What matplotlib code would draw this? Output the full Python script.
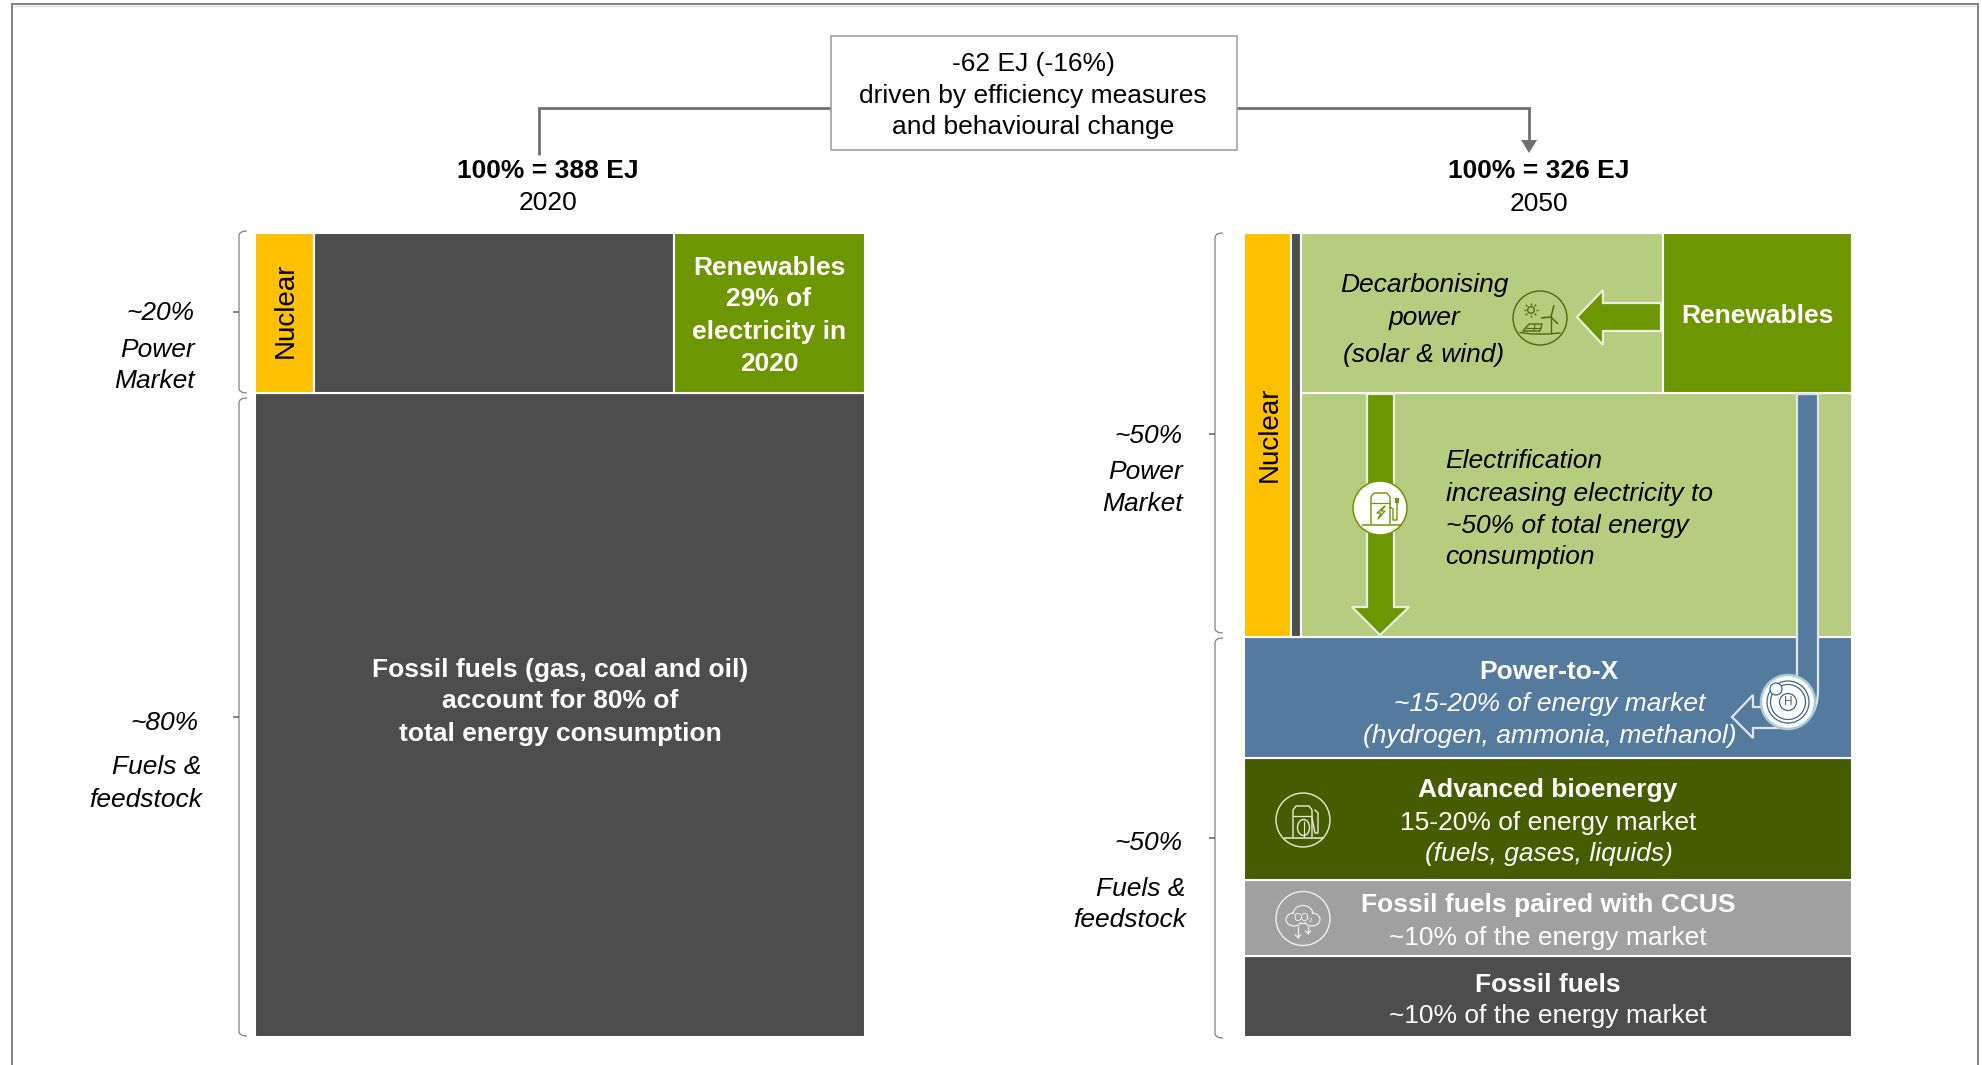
import matplotlib
matplotlib.use("Agg")
import matplotlib.pyplot as plt
from matplotlib.patches import Polygon, Circle, PathPatch, Rectangle, Ellipse
from matplotlib.path import Path

plt.rcParams['font.family'] = ['Liberation Sans', 'DejaVu Sans']

# ---- data (percent of total energy) ----
power_2020 = 19.9
fuels_2020 = 80.1
power_2020_names = ["Nuclear", "Fossil", "Renewables"]
power_2020_widths = [9.7, 59.0, 31.3]

rows_2050_names = ["Fossil fuels", "Fossil fuels paired with CCUS", "Advanced bioenergy", "Power-to-X"]
rows_2050_heights = [10.0, 9.5, 15.1, 15.1]
electrification_2050 = 30.4
decarbonising_2050 = 19.9
left_cols_2050_names = ["Nuclear", "Fossil"]
left_cols_2050_widths = [7.75, 1.7]
decarb_width_2050 = 59.5
renew_width_2050 = 31.05

GREY = '#4d4d4d'; AMBER = '#ffc000'; GREEN = '#6e9600'; LIGHT = '#b6cd80'
BLUE = '#547a9e'; BIO = '#465c00'; CCUS = '#a0a0a0'
colors_2020 = [AMBER, GREY, GREEN]
colors_rows_2050 = [GREY, CCUS, BIO, BLUE]
colors_left_2050 = [AMBER, GREY]

W, H = 1983, 1065
fig = plt.figure(figsize=(W/100, H/100), dpi=100, facecolor='white')

def panel(x0, x1, y0, y1):
    ax = fig.add_axes([x0/W, 1-y1/H, (x1-x0)/W, (y1-y0)/H])
    ax.set_xlim(0, 100); ax.set_ylim(0, 100); ax.axis('off')
    return ax

EDGE = dict(edgecolor='white', linewidth=1.5, align='edge')

# ---- 2020 ----
ax1 = panel(255, 864.5, 233, 1036.5)
ax1.bar(0, fuels_2020, 100, bottom=0, color=GREY, **EDGE)
left = 0
for w, c in zip(power_2020_widths, colors_2020):
    ax1.bar(left, power_2020, w, bottom=fuels_2020, color=c, **EDGE)
    left += w

# ---- 2050 ----
ax2 = panel(1243.5, 1852, 233, 1036.5)
bottom = 0
for h, c in zip(rows_2050_heights, colors_rows_2050):
    ax2.bar(0, h, 100, bottom=bottom, color=c, **EDGE)
    bottom += h
power_h = electrification_2050 + decarbonising_2050
left = 0
for w, c in zip(left_cols_2050_widths, colors_left_2050):
    ax2.bar(left, power_h, w, bottom=bottom, color=c, **EDGE)
    left += w
ax2.bar(left, electrification_2050, 100-left, bottom=bottom, color=LIGHT, **EDGE)
ax2.bar(left, decarbonising_2050, decarb_width_2050, bottom=bottom+electrification_2050, color=LIGHT, **EDGE)
ax2.bar(left+decarb_width_2050, decarbonising_2050, renew_width_2050, bottom=bottom+electrification_2050, color=GREEN, **EDGE)

# ---- overlay in pixel coordinates ----
ov = fig.add_axes([0, 0, 1, 1], facecolor='none')
ov.set_xlim(0, W); ov.set_ylim(H, 0); ov.axis('off')

def t(x, y, s, size=19, weight='normal', style='normal', color='black', ha='center', rot=0):
    ov.text(x, y+2, s, fontsize=size, fontweight=weight, fontstyle=style, color=color,
            ha=ha, va='center', rotation=rot, zorder=20)

def line(xs, ys, color='#707070', lw=1.5, z=5):
    ov.plot(xs, ys, color=color, lw=lw, solid_capstyle='butt', solid_joinstyle='miter', zorder=z)

# frame
line([12, 12, 1978, 1978], [H, 4, 4, H], color='#808080', lw=1.4)
line([14, 1976], [6, 6], color='#d8d8d8', lw=1.0)

# callout
ov.add_patch(Rectangle((831, 36), 406, 114, fc='white', ec='#999999', lw=1.1, zorder=6))
line([831, 539, 539], [108, 108, 155], lw=2.0)
line([1237, 1529, 1529], [108, 108, 142], lw=2.0)
ov.add_patch(Polygon([(1521, 140), (1537, 140), (1529, 153)], fc='#707070', ec='none', zorder=5))

def bracket(x, y1, y2, ym):
    verts = [(x+8, y1), (x, y1), (x, y1+5), (x, y2-5), (x, y2), (x+8, y2)]
    codes = [Path.MOVETO, Path.CURVE3, Path.CURVE3, Path.LINETO, Path.CURVE3, Path.CURVE3]
    ov.add_patch(PathPatch(Path(verts, codes), fc='none', ec='#808080', lw=0.9, zorder=5))
    line([x-6, x], [ym, ym], color='#606060', lw=1.1)

bracket(239, 231, 393, 312)
bracket(239, 398, 1036, 717)
bracket(1215, 233, 633, 434)
bracket(1215, 638, 1038, 838)

# block arrows
WO = dict(ec='#e8eee0', lw=1.6, joinstyle='miter')
ov.add_patch(Polygon([(1661, 303), (1603, 303), (1603, 290), (1577, 317), (1603, 345), (1603, 331), (1661, 331)],
                     fc=GREEN, zorder=6, **WO))
ov.add_patch(Polygon([(1367, 394), (1367, 607), (1352, 607), (1380, 635), (1409, 607), (1394, 607), (1394, 394)],
                     fc=GREEN, zorder=6, **WO))
pipe = Path([(1797, 394), (1818, 394), (1818, 690), (1818, 728), (1782, 728), (1753, 728), (1753, 738),
             (1732, 717), (1753, 695), (1753, 707), (1780, 707), (1797, 680), (1797, 394)],
            [Path.MOVETO, Path.LINETO, Path.LINETO, Path.CURVE3, Path.CURVE3, Path.LINETO, Path.LINETO,
             Path.LINETO, Path.LINETO, Path.LINETO, Path.LINETO, Path.LINETO, Path.CLOSEPOLY])
ov.add_patch(PathPatch(pipe, fc=BLUE, ec='#dfe6ea', lw=1.6, zorder=6))

# icons
def ring(cx, cy, r, fc='none', ec='white', lw=1.0, z=8):
    ov.add_patch(Circle((cx, cy), r, fc=fc, ec=ec, lw=lw, zorder=z))

def poly(pts, ec, lw=0.9, fc='none', closed=False, z=9):
    ov.add_patch(Polygon(pts, closed=closed, fc=fc, ec=ec, lw=lw, zorder=z, joinstyle='round'))

def pump(cx, cy, col):
    poly([(cx-10, cy+15), (cx-10, cy-12), (cx-7, cy-16), (cx+6, cy-16), (cx+9, cy-12), (cx+9, cy+15)], col, lw=1.0)
    line([cx-10, cx+9], [cy-6, cy-6], color=col, lw=0.9, z=9)
    line([cx-19, cx+21], [cy+15.5, cy+15.5], color=col, lw=1.1, z=9)

# wind & solar
DG = '#4a6a10'
cx, cy = 1540, 318
ring(cx, cy, 27, ec=DG, lw=1.0)
ring(cx-9, cy-8, 3.3, ec=DG, lw=1.0)
for dx, dy in [(5, 0), (-5, 0), (0, 5), (0, -5), (3.6, 3.6), (-3.6, 3.6), (3.6, -3.6), (-3.6, -3.6)]:
    line([cx-9+dx, cx-9+dx*1.45], [cy-8+dy, cy-8+dy*1.45], color=DG, lw=1.0, z=9)
line([cx+11, cx+11], [cy-1, cy+16], color=DG, lw=1.0, z=9)
line([cx+11, cx+14], [cy-1, cy-13], color=DG, lw=1.1, z=9)
line([cx+11, cx+1], [cy-1, cy], color=DG, lw=1.1, z=9)
line([cx+11, cx+18], [cy-1, cy+6], color=DG, lw=1.1, z=9)
poly([(cx-17, cy+13), (cx-11, cy+6), (cx+2, cy+6), (cx, cy+13)], DG, lw=1.0, closed=True)
line([cx-14, cx+1], [cy+9.5, cy+9.5], color=DG, lw=0.8, z=9)
line([cx-5, cx-6], [cy+6, cy+13], color=DG, lw=0.8, z=9)
ov.plot([cx-20, cx-8, cx+8, cx+20], [cy+14.5, cy+16, cy+16, cy+15], color=DG, lw=1.0, zorder=9)

# charger
cx, cy = 1380, 508
ring(cx, cy, 27, fc='white', ec=GREEN, lw=1.1)
pump(cx+1, cy+1, GREEN)
poly([(cx+5, cy-2), (cx-3, cy+5), (cx+1, cy+5), (cx-2, cy+11), (cx+5, cy+3), (cx+1, cy+3)], GREEN, lw=0.9, closed=True)
ov.plot([cx+10, cx+13, cx+13, cx+17, cx+17], [cy-1, cy+1, cy+12, cy+12, cy-6], color=GREEN, lw=1.0, zorder=9)
ov.add_patch(Rectangle((cx+15, cy-10), 4, 5, fc=GREEN, ec='none', zorder=9))

# hydrogen
cx, cy = 1788, 702
ring(cx, cy, 27, fc='white', ec='#a9cad8', lw=1.8)
for r in (21, 17.5, 8.5):
    ring(cx, cy, r, ec='#3f6487', lw=0.9, z=9)
ring(cx-12, cy-13, 6, fc='white', ec='#3f6487', lw=0.9, z=10)
ov.text(cx, cy, 'H', fontsize=8.5, color='#3f6487', ha='center', va='center', zorder=11)

# bio pump
BL = '#e8ecdc'
cx, cy = 1303, 820
ring(cx, cy, 27, ec=BL, lw=1.0)
pump(cx, cy+2, BL)
ov.add_patch(Ellipse((cx+0.5, cy+7.5), 12, 16, fc='none', ec=BL, lw=1.0, zorder=9))
line([cx+0.5, cx+0.5], [cy+1, cy+17], color=BL, lw=0.8, z=9)
ov.plot([cx+9, cx+12, cx+15, cx+15, cx+12], [cy-2, cy+13, cy+13, cy-7, cy-10], color=BL, lw=1.0, zorder=9)

# CO2 cloud
CL = '#f0f0f0'
cx, cy = 1303, 918.5
ring(cx, cy, 27, ec=CL, lw=1.0)
lobes = [(-9, 1, 16, 13), (0, -4, 20, 18), (9, 1, 16, 13)]
for ex, ey, ew, eh in lobes:
    ov.add_patch(Ellipse((cx+ex, cy+ey), ew, eh, fc='none', ec=CL, lw=0.9, zorder=9))
for ex, ey, ew, eh in lobes:
    ov.add_patch(Ellipse((cx+ex, cy+ey), ew-2, eh-2, fc=CCUS, ec='none', zorder=9.2))
ov.text(cx, cy-1, 'CO₂', fontsize=7.5, color='#f8f8f8', ha='center', va='center', zorder=11)
for dx, y2 in [(-5, 19), (5, 15)]:
    line([cx+dx, cx+dx], [cy+7, cy+y2], color=CL, lw=0.9, z=9.5)
    poly([(cx+dx-3, cy+y2-3), (cx+dx, cy+y2), (cx+dx+3, cy+y2-3)], CL, lw=0.9, z=9.5)

# ---- text ----
S = 1.2647
BIG = 19
def lines(x, items, **kw):
    for yy, s in items:
        t(x*S, yy*S, s, **kw)

lines(817, [(49, "-62 EJ (-16%)"), (74, "driven by efficiency measures"), (99, "and behavioural change")], size=BIG)
t(433*S, 134*S, "100% = 388 EJ", size=BIG, weight='bold'); t(433*S, 159*S, "2020", size=BIG)
t(1217*S, 134*S, "100% = 326 EJ", size=BIG, weight='bold'); t(1217*S, 160*S, "2050", size=BIG)

def side(x, items):
    for yy, s in items:
        t(x*S, yy*S, s, size=BIG, style='italic', ha='right')

side(154, [(246, "~20%"), (275, "Power"), (300, "Market")])
side(157, [(570, "~80%")]); side(159.5, [(605, "Fuels &"), (631, "feedstock")])
side(935, [(343, "~50%"), (372, "Power"), (397, "Market")])
side(935, [(665, "~50%")]); side(937.5, [(701, "Fuels &"), (726, "feedstock")])

t(226*S, 244*S, "Nuclear", size=20, rot=90)
t(1004*S, 341.5*S, "Nuclear", size=20, rot=90)

lines(608, [(210, "Renewables"), (235, "29% of"), (261, "electricity in"), (286, "2020")],
      size=BIG, weight='bold', color='white')
lines(443, [(528, "Fossil fuels (gas, coal and oil)"), (553, "account for 80% of"), (579, "total energy consumption")],
      size=BIG, weight='bold', color='white')
lines(1126, [(224, "Decarbonising"), (250, "power"), (279, "(solar & wind)")], size=BIG, style='italic')
t(1390*S, 248*S, "Renewables", size=BIG, weight='bold', color='white')
for yy, s in [(363, "Electrification"), (389, "increasing electricity to"), (414, "~50% of total energy"), (439, "consumption")]:
    t(1143*S, yy*S, s, size=BIG, style='italic', ha='left')

t(1224.5*S, 530*S, "Power-to-X", size=BIG, weight='bold', color='white')
t(1225*S, 555*S, "~15-20% of energy market", size=BIG, style='italic', color='white')
t(1225*S, 580*S, "(hydrogen, ammonia, methanol)", size=BIG, style='italic', color='white')
t(1224*S, 623*S, "Advanced bioenergy", size=BIG, weight='bold', color='white')
t(1224*S, 649*S, "15-20% of energy market", size=BIG, color='white')
t(1225*S, 674*S, "(fuels, gases, liquids)", size=BIG, style='italic', color='white')
t(1224*S, 714*S, "Fossil fuels paired with CCUS", size=BIG, weight='bold', color='white')
t(1224*S, 740*S, "~10% of the energy market", size=BIG, color='white')
t(1224*S, 777*S, "Fossil fuels", size=BIG, weight='bold', color='white')
t(1224*S, 802*S, "~10% of the energy market", size=BIG, color='white')

fig.savefig('out.png', dpi=100)
